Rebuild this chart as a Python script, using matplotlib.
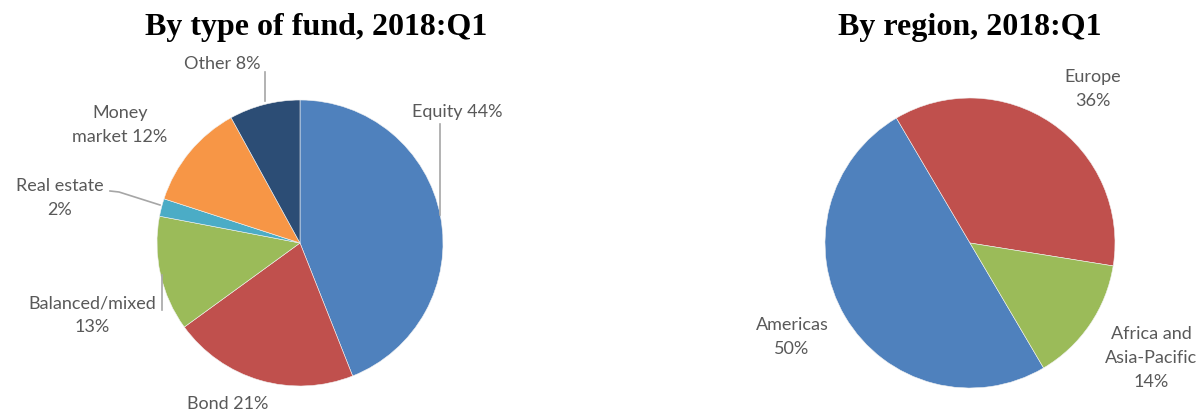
import matplotlib
matplotlib.use("Agg")
import matplotlib.pyplot as plt

# Data
fund_labels = ["Equity 44%", "Bond 21%", "Balanced/mixed\n13%", "Real estate\n2%", "Money\nmarket 12%", "Other 8%"]
fund_values = [44, 21, 13, 2, 12, 8]
fund_colors = ["#4F81BD", "#C0504D", "#9BBB59", "#4BACC6", "#F79646", "#2C4D75"]

region_labels = ["Americas\n50%", "Europe\n36%", "Africa and\nAsia-Pacific\n14%"]
region_values = [50, 36, 14]
region_colors = ["#4F81BD", "#C0504D", "#9BBB59"]

title_left = "By type of fund, 2018:Q1"
title_right = "By region, 2018:Q1"

W, H = 1199, 413
fig = plt.figure(figsize=(W / 100, H / 100), dpi=100)
ax = fig.add_axes([0, 0, 1, 1])

def Y(y):
    return H - y

wp = dict(edgecolor="#F2F2F2", linewidth=0.4)
ax.pie(fund_values, colors=fund_colors, startangle=90, counterclock=False,
       center=(300, Y(243)), radius=143, wedgeprops=wp, frame=True)
ax.pie(region_values, colors=region_colors, startangle=-59.5, counterclock=False,
       center=(970, Y(243)), radius=145, wedgeprops=wp, frame=True)
ax.set_xlim(0, W)
ax.set_ylim(0, H)
ax.set_aspect("equal")
ax.axis("off")

tf = dict(family="Liberation Serif", fontweight="bold", fontsize=23, color="black",
          ha="center", va="center")
ax.text(316, Y(27), title_left, **tf)
ax.text(970, Y(27), title_right, **tf)

lf = dict(family="Lato", fontsize=13, color="#595959", ha="center", va="center",
          linespacing=1.6)
fund_pos = [(457, 112), (228, 404), (92, 315), (60, 198), (120, 125), (222, 64)]
for lab, (x, y) in zip(fund_labels, fund_pos):
    ax.text(x, Y(y), lab, **lf)
region_pos = [(792, 337), (1093, 89), (1151, 358)]
for lab, (x, y) in zip(region_labels, region_pos):
    ax.text(x, Y(y), lab, **lf)

lc = dict(color="#A6A6A6", linewidth=1.2)
ax.plot([440, 440], [Y(124), Y(215)], **lc)
ax.plot([265, 265], [Y(72), Y(101)], **lc)
ax.plot([110, 119, 160], [Y(191), Y(192), Y(205)], **lc)
ax.plot([162, 162], [Y(275), Y(310)], **lc)

fig.savefig("out.png", dpi=100)
